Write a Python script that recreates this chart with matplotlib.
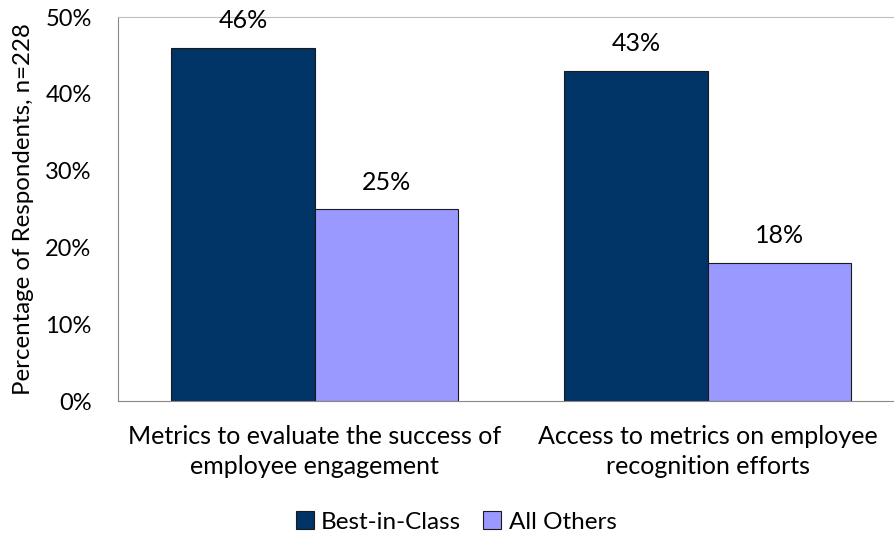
import matplotlib
matplotlib.use("Agg")
import matplotlib.pyplot as plt
import numpy as np

categories = ["Metrics to evaluate the success of\nemployee engagement",
              "Access to metrics on employee\nrecognition efforts"]
series_names = ["Best-in-Class", "All Others"]
best_in_class = [46, 43]
all_others = [25, 18]
yticks = [0, 10, 20, 30, 40, 50]

plt.rcParams['font.family'] = ['Lato', 'DejaVu Sans']

fig = plt.figure(figsize=(8.94, 5.35), dpi=100)
W, H = 894, 535
left, right, top, bottom = 118, 904, 17, 401
ax = fig.add_axes([left / W, 1 - bottom / H, (right - left) / W, (bottom - top) / H])

x = np.arange(len(categories))
bw = 0.364
colors = ["#003366", "#9999FF"]
b1 = ax.bar(x - bw / 2, best_in_class, bw, color=colors[0], edgecolor="#1a1a1a", linewidth=0.8, label=series_names[0])
b2 = ax.bar(x + bw / 2, all_others, bw, color=colors[1], edgecolor="#1a1a1a", linewidth=0.8, label=series_names[1])

for bars, vals in ((b1, best_in_class), (b2, all_others)):
    for r, v in zip(bars, vals):
        ax.text(r.get_x() + r.get_width() / 2, v + 2.0, f"{v}%", ha="center", va="bottom", fontsize=18)

ax.set_xlim(-0.5, 1.5)
ax.set_ylim(0, 50)
ax.set_yticks(yticks)
ax.set_yticklabels([f"{t}%" for t in yticks], fontsize=17)
ax.set_xticks(x)
ax.set_xticklabels(categories, fontsize=18, linespacing=1.38)
ax.tick_params(axis="y", length=0, pad=19)
ax.tick_params(axis="x", length=0, pad=17)
for s in ("top", "right"):
    ax.spines[s].set_color("#bfbfbf")
ax.spines["left"].set_color("#888888")
ax.spines["bottom"].set_color("#888888")
ax.set_ylabel("Percentage of Respondents, n=228", fontsize=17.3, labelpad=8)

leg = fig.legend(handles=[b1, b2], labels=series_names, loc="center", bbox_to_anchor=(456 / W, 1 - 522 / H),
                 ncol=2, frameon=False, fontsize=17.5, handlelength=0.75, handleheight=0.75, handletextpad=0.3,
                 columnspacing=0.9)

fig.savefig("out.png", dpi=100)
